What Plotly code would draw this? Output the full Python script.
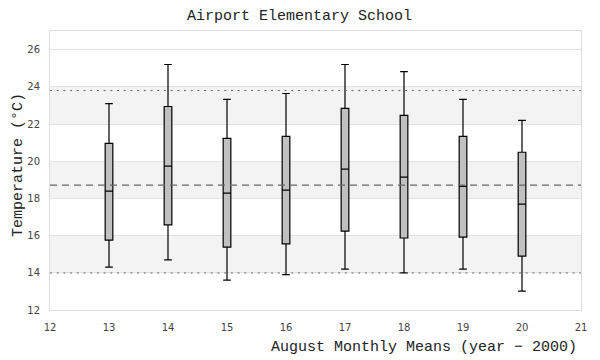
import plotly.graph_objects as go

years = [13, 14, 15, 16, 17, 18, 19, 20]
lower = [14.31, 14.69, 13.61, 13.90, 14.20, 14.00, 14.20, 13.02]
q1 = [15.76, 16.58, 15.38, 15.56, 16.24, 15.87, 15.92, 14.90]
median = [18.39, 19.73, 18.28, 18.44, 19.57, 19.14, 18.65, 17.69]
q3 = [20.96, 22.94, 21.23, 21.34, 22.84, 22.46, 21.34, 20.48]
upper = [23.10, 25.20, 23.32, 23.64, 25.20, 24.82, 23.32, 22.19]

overall_mean = 18.71
upper_limit = 23.80
lower_limit = 13.99
bands = [(14, 16), (18, 20), (22, 24)]

mono = "Liberation Mono, DejaVu Sans Mono, monospace"

# page body has an 8px default margin, so the figure is sized to fit inside
W, H = 592, 352
ML, MR, MT, MB = 42, 19, 23, 50
PH = H - MT - MB

fig = go.Figure()
fig.add_trace(go.Box(
    x=years, q1=q1, median=median, q3=q3,
    lowerfence=lower, upperfence=upper,
    width=0.13, whiskerwidth=1,
    fillcolor="#c0c0c0",
    line=dict(color="black", width=1.2),
    boxpoints=False, showlegend=False, hoverinfo="skip",
))

for lo, hi in bands:
    fig.add_shape(type="rect", xref="paper", yref="y", x0=0, x1=1, y0=lo, y1=hi,
                  fillcolor="#f3f3f3", line=dict(width=0), layer="below")

fig.add_shape(type="line", xref="paper", yref="y", x0=0, x1=1,
              y0=overall_mean, y1=overall_mean,
              line=dict(color="#666666", width=1.3, dash="7px,5px"))
for v in (upper_limit, lower_limit):
    fig.add_shape(type="line", xref="paper", yref="y", x0=0, x1=1, y0=v, y1=v,
                  line=dict(color="#666666", width=1.2, dash="2px,4.7px"))

tickfont = dict(family="DejaVu Sans, sans-serif", size=10, color="#444444")
fig.update_layout(
    width=W, height=H,
    margin=dict(l=ML, r=MR, t=MT, b=MB, autoexpand=False),
    paper_bgcolor="white", plot_bgcolor="white",
    title=dict(text="Airport Elementary School", x=291.5 / W, xanchor="center",
               y=1 - 7 / H, yanchor="middle",
               font=dict(family=mono, size=15, color="#222222"), automargin=False),
    xaxis=dict(range=[12, 21], dtick=1, tick0=12, showgrid=False, zeroline=False,
               showline=True, mirror=True, linecolor="#dddddd", linewidth=1,
               automargin=False, tickfont=tickfont,
               ticks="outside", ticklen=8, tickcolor="rgba(0,0,0,0)"),
    yaxis=dict(range=[12, 27], dtick=2, tick0=12, showgrid=True, gridcolor="#e2e2e2",
               zeroline=False, showline=True, mirror=True, linecolor="#dddddd", linewidth=1,
               automargin=False, tickfont=tickfont,
               ticks="outside", ticklen=7, tickcolor="rgba(0,0,0,0)"),
)

fig.add_annotation(text="August Monthly Means (year − 2000)", xref="paper", yref="paper",
                   x=1, xanchor="right", xshift=-2, y=-37 / PH, yanchor="middle", showarrow=False,
                   font=dict(family=mono, size=15, color="#222222"))
fig.add_annotation(text="Temperature (°C)", xref="paper", yref="paper",
                   x=0, xshift=-31, y=0.52, xanchor="center", yanchor="middle",
                   textangle=-90, showarrow=False,
                   font=dict(family=mono, size=15, color="#222222"))

fig.write_html("out.html")
